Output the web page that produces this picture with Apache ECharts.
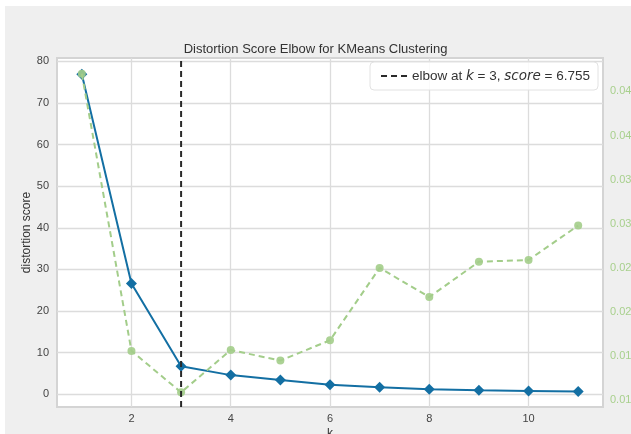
<!DOCTYPE html>
<html>
<head>
<meta charset="utf-8">
<script src="https://cdn.jsdelivr.net/npm/echarts@6/dist/echarts.min.js"></script>
<style>
  html, body { margin: 0; padding: 0; background: #fff; }
  #chart { width: 631px; height: 434px; }
</style>
</head>
<body>
<div id="chart"></div>
<script>
// values
var kValues = [1, 2, 3, 4, 5, 6, 7, 8, 9, 10, 11];
var distortion = [76.9, 26.6, 6.755, 4.6, 3.4, 2.3, 1.7, 1.2, 0.95, 0.8, 0.65];
var fitTime = [0.0470, 0.0156, 0.0109, 0.0157, 0.0145, 0.0168, 0.0250, 0.0217, 0.0257, 0.0259, 0.0298];
var xTicks = [2, 4, 6, 8, 10];
var leftTicks = [0, 10, 20, 30, 40, 50, 60, 70, 80];
var rightTicks = [0.010, 0.015, 0.020, 0.025, 0.030, 0.035, 0.040, 0.045];
var elbowK = 3;
var elbowScore = 6.755;

var yMin = -3.06, yMax = 80.78;
var fontFam = '"Liberation Sans", Arial, sans-serif';

function pairs(xs, ys) {
	var out = [];
	for (var i = 0; i < xs.length; i++) {
		out.push([xs[i], ys[i]]);
	}
	return out;
}

function initElbow(elem) {
	var myChart = echarts.init(document.getElementById(elem));
	var option = {
		backgroundColor: '#fff',
		animation: false,
		textStyle: { fontFamily: fontFam },
		graphic: [{
			type: 'rect',
			z: -100,
			silent: true,
			shape: { x: 5, y: 6, width: 626, height: 428 },
			style: { fill: '#efefef' }
		}],
		title: {
			text: 'Distortion Score Elbow for KMeans Clustering',
			left: 'center',
			top: 38,
			textStyle: { fontSize: 13, fontWeight: 'normal', color: '#333', fontFamily: fontFam }
		},
		legend: {
			right: 33,
			top: 62,
			data: [{ name: 'elbow', itemStyle: { opacity: 0 } }],
			itemWidth: 26,
			itemHeight: 10,
			itemGap: 8,
			backgroundColor: 'rgba(255,255,255,0.85)',
			borderColor: '#e2e2e2',
			borderWidth: 1,
			borderRadius: 4,
			padding: [7, 8, 7, 10],
			formatter: function () {
				return '{n|elbow at }{i|k}{n| = ' + elbowK + ', }{i|score}{n| = ' + elbowScore + '}';
			},
			textStyle: {
				color: '#333',
				fontSize: 13.5,
				rich: {
					n: { fontSize: 13.5, color: '#333', fontFamily: fontFam },
					i: { fontSize: 13.5, color: '#333', fontStyle: 'italic', fontFamily: '"DejaVu Sans", sans-serif' }
				}
			}
		},
		grid: {
			left: 57, right: 28, top: 58, bottom: 27,
			outerBoundsMode: 'none',
			show: true,
			backgroundColor: '#fff',
			borderColor: '#d4d4d4',
			borderWidth: 2
		},
		xAxis: {
			type: 'value',
			min: 0.5,
			max: 11.5,
			name: 'k',
			nameLocation: 'middle',
			nameGap: 21,
			nameMoveOverlap: false,
			nameTextStyle: { color: '#333', fontSize: 12 },
			axisLine: { show: false },
			axisTick: { show: false, customValues: xTicks },
			axisLabel: { customValues: xTicks, color: '#444', fontSize: 11, margin: 6 },
			splitLine: { show: true, lineStyle: { color: '#dcdcdc', width: 1.3 } }
		},
		yAxis: [{
			type: 'value',
			min: yMin,
			max: yMax,
			name: 'distortion score',
			nameLocation: 'middle',
			nameGap: 24,
			nameMoveOverlap: false,
			nameTextStyle: { color: '#333', fontSize: 12 },
			axisLine: { show: false },
			axisTick: { show: false, customValues: leftTicks },
			axisLabel: { customValues: leftTicks, color: '#444', fontSize: 11, margin: 8 },
			splitLine: { show: true, lineStyle: { color: '#dcdcdc', width: 1.3 } }
		}, {
			type: 'value',
			position: 'right',
			min: 0.00924,
			max: 0.04879,
			axisLine: { show: false },
			axisTick: { show: false, customValues: rightTicks },
			axisLabel: {
				customValues: rightTicks,
				color: '#a8d08d',
				fontSize: 11,
				margin: 7,
				formatter: function (v) { return v.toFixed(3); }
			},
			splitLine: { show: false }
		}],
		series: [{
			name: 'distortion score',
			type: 'line',
			data: pairs(kValues, distortion),
			symbol: 'diamond',
			symbolSize: 11,
			lineStyle: { color: '#136fa3', width: 2 },
			itemStyle: { color: '#136fa3' },
			z: 3
		}, {
			name: 'fit time',
			type: 'line',
			yAxisIndex: 1,
			data: pairs(kValues, fitTime),
			symbol: 'circle',
			symbolSize: 8,
			lineStyle: { color: '#a3cd8a', width: 2, type: [6, 4] },
			itemStyle: { color: '#a3cd8a', opacity: 0.9 },
			z: 4
		}, {
			name: 'elbow',
			type: 'line',
			data: [[elbowK, yMin], [elbowK, yMax]],
			symbol: 'none',
			lineStyle: { color: '#2a2a2a', width: 2, type: [6, 4] },
			itemStyle: { color: '#2a2a2a' },
			z: 5
		}]
	};
	myChart.setOption(option);
}

initElbow('chart');
</script>
</body>
</html>
